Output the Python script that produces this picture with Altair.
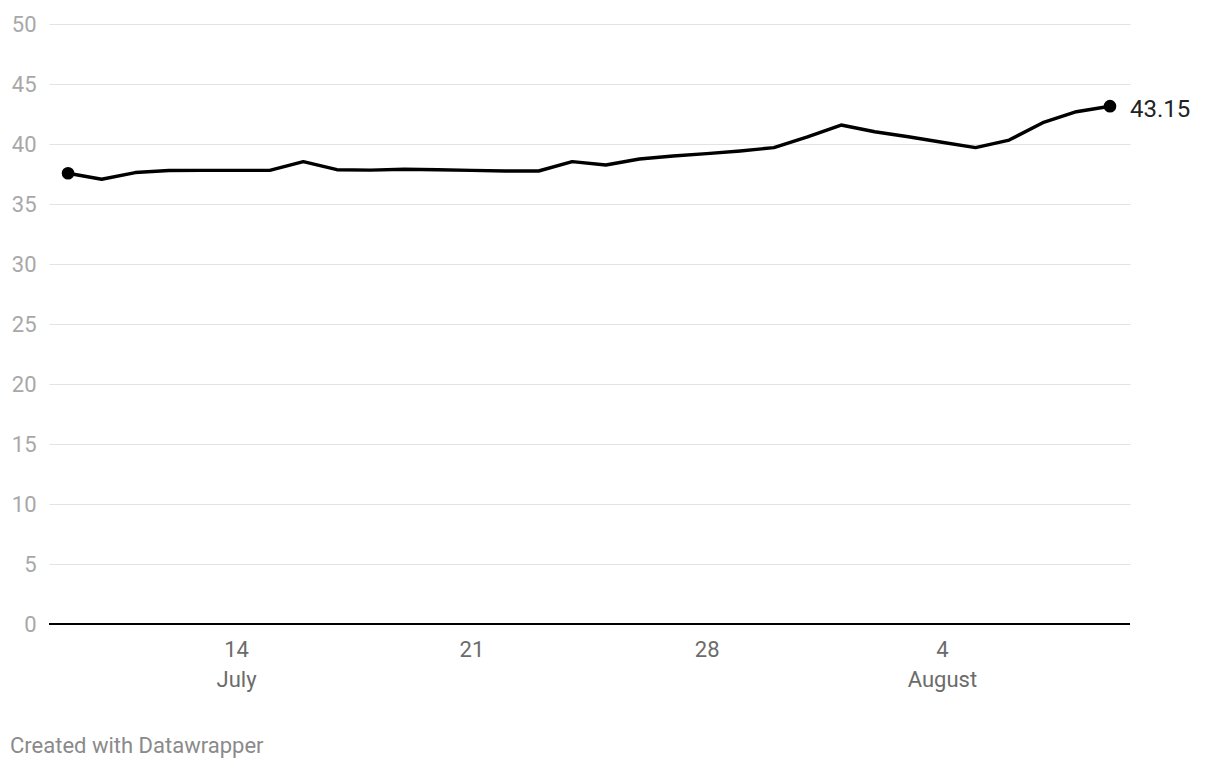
import altair as alt
import pandas as pd

dates = pd.date_range("2021-07-09", "2021-08-09", freq="D").strftime("%Y-%m-%d").tolist()
values = [37.56, 37.06, 37.62, 37.79, 37.80, 37.80, 37.80, 38.53, 37.86, 37.82,
          37.89, 37.85, 37.80, 37.75, 37.75, 38.53, 38.25, 38.75, 39.00, 39.20,
          39.42, 39.70, 40.60, 41.58, 41.02, 40.60, 40.15, 39.70, 40.33, 41.78,
          42.69, 43.15]
y_ticks = [0, 5, 10, 15, 20, 25, 30, 35, 40, 45, 50]
last_label = "43.15"
footer = "Created with Datawrapper"

df = pd.DataFrame({"date": dates, "value": values})
ends = df.iloc[[0, len(df) - 1]]
last = df.iloc[[len(df) - 1]].assign(label=last_label)

FONT = "Roboto"

x_enc = alt.X(
    "date:T",
    scale=alt.Scale(
        type="utc",
        domain=[alt.DateTime(year=2021, month=7, date=8, hours=10, minutes=24, utc=True),
                alt.DateTime(year=2021, month=8, date=9, hours=14, minutes=17, utc=True)],
    ),
    axis=alt.Axis(
        values=[alt.DateTime(year=2021, month=7, date=d, utc=True) for d in (14, 21, 28)]
        + [alt.DateTime(year=2021, month=8, date=4, utc=True)],
        labelExpr="utcdate(datum.value) == 14 ? ['14', 'July'] : (utcdate(datum.value) == 4 ? ['4', 'August'] : utcFormat(datum.value, '%-d'))",
        title=None,
        ticks=False,
        domain=False,
        grid=False,
        labelFont=FONT,
        labelFontSize=22,
        labelColor="#6b6b6b",
        labelPadding=15,
        labelLineHeight=30,
    ),
)

y_enc = alt.Y(
    "value:Q",
    scale=alt.Scale(domain=[0, 50], nice=False, zero=True),
    axis=alt.Axis(
        values=y_ticks,
        title=None,
        ticks=False,
        domain=False,
        grid=True,
        gridColor="#e3e3e3",
        gridWidth=1,
        labelFont=FONT,
        labelFontSize=22,
        labelColor="#a8a8a8",
        labelPadding=13,
    ),
)

base = alt.Chart(df)

line = base.mark_line(color="black", strokeWidth=3.4, strokeJoin="round").encode(x=x_enc, y=y_enc)

pts = alt.Chart(ends).mark_circle(color="black", opacity=1, size=160).encode(x="date:T", y="value:Q")

lbl = alt.Chart(last).mark_text(
    align="left", baseline="middle", dx=20, dy=4, font=FONT, fontSize=24, color="#222222"
).encode(x="date:T", y="value:Q", text="label:N")

baseline = alt.Chart(pd.DataFrame({"v": [0]})).mark_rule(color="black", strokeWidth=2).encode(y="v:Q")

foot = alt.Chart(pd.DataFrame({"t": [footer]})).mark_text(
    align="left", baseline="middle", font=FONT, fontSize=22, color="#8a8a8a"
).encode(x=alt.value(-39), y=alt.value(722), text="t:N")

chart = alt.layer(line, baseline, pts, lbl, foot).properties(
    width=1081,
    height=600,
    padding={"left": 49, "top": 24, "right": 90, "bottom": 146},
    autosize=alt.AutoSizeParams(type="none"),
    background="white",
).configure_view(stroke=None)

chart.save("out.html", embed_options={"renderer": "svg", "actions": False})
